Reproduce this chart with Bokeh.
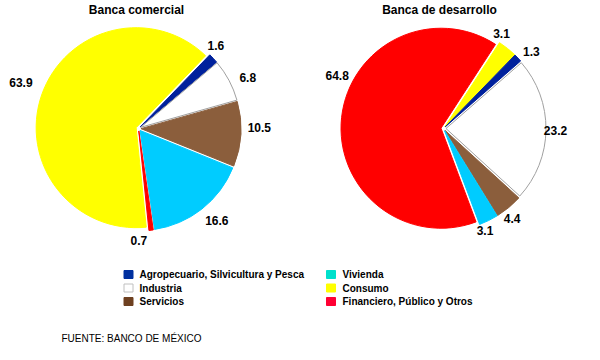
import math
from bokeh.plotting import figure
from bokeh.models import Range1d, ColumnDataSource
from bokeh.core.properties import value
from bokeh.embed import file_html
from bokeh.resources import INLINE

# ---------------- data ----------------
categories = ["Agropecuario, Silvicultura y Pesca", "Industria", "Servicios",
              "Vivienda", "Consumo", "Financiero, Público y Otros"]
comercial_values = [1.6, 6.8, 10.5, 16.6, 63.9, 0.7]
desarrollo_values = [1.3, 23.2, 4.4, 3.1, 3.1, 64.8]
# clockwise slice order (indices into categories)
comercial_order = [0, 1, 2, 3, 5, 4]
desarrollo_order = [4, 0, 1, 2, 3, 5]
titles = ["Banca comercial", "Banca de desarrollo"]
source_text = "FUENTE: BANCO DE MÉXICO"

# ---------------- style ----------------
slice_colors = ["#00219C", "#FFFFFF", "#8B5E3C", "#00CCFF", "#FFFF00", "#FF0000"]
slice_lines = ["#00219C", "#A0A0A0", "#8B5E3C", "#00CCFF", "#FFFF00", "#FF0000"]
legend_colors = ["#0030A0", "#FFFFFF", "#6E4020", "#00E0CC", "#FFFF00", "#FF0033"]
legend_lines = ["#0030A0", "#C0C0C0", "#6E4020", "#00E0CC", "#FFFF00", "#FF0033"]
FONT = value("Liberation Sans")

W, H = 584, 344


def X(xs):
    return xs


def Y(ys):
    return H - ys


p = figure(width=W, height=H, output_backend="svg", toolbar_location=None,
           x_range=Range1d(0, W), y_range=Range1d(0, H),
           x_axis_type=None, y_axis_type=None, min_border=0)
p.grid.visible = False
p.outline_line_color = None
p.background_fill_color = "white"

pies = [
    dict(vals=comercial_values, order=comercial_order, cx=X(138), cy=Y(128), start=44,
         nudges=[(-8, -3), (6, 4), (4, -7), (6, 0), (-14, -4), (-7, -8)], tx=X(136)),
    dict(vals=desarrollo_values, order=desarrollo_order, cx=X(443), cy=Y(128), start=33,
         nudges=[(-15, -4), (3, 4), (-5, 1), (-6, 0), (-10, -3), (10, -40)], tx=X(439)),
]

R = 100
LR = 117
EXPLODE = 2.5

for k, pie in enumerate(pies):
    vals = pie["vals"]
    total = sum(vals)
    th = pie["start"]
    d = dict(x=[], y=[], sa=[], ea=[], fc=[], lc=[])
    lab = dict(x=[], y=[], t=[])
    for j, idx in enumerate(pie["order"]):
        v = vals[idx]
        span = v / total * 360.0
        ths, the = th, th + span
        mid = math.radians((ths + the) / 2)
        d["x"].append(pie["cx"] + EXPLODE * math.sin(mid))
        d["y"].append(pie["cy"] + EXPLODE * math.cos(mid))
        d["sa"].append(math.radians(90 - ths))
        d["ea"].append(math.radians(90 - the))
        d["fc"].append(slice_colors[idx])
        d["lc"].append(slice_lines[idx])
        ndx, ndy = pie["nudges"][j]
        lab["x"].append(pie["cx"] + LR * math.sin(mid) + ndx)
        lab["y"].append(pie["cy"] + LR * math.cos(mid) - ndy)
        lab["t"].append(f"{v:.1f}")
        th = the
    src = ColumnDataSource(d)
    p.wedge(x="x", y="y", radius=R, start_angle="sa", end_angle="ea", direction="clock",
            fill_color="fc", line_color="lc", line_width=1, source=src)
    p.text(x="x", y="y", text="t", source=ColumnDataSource(lab), text_font=FONT,
           text_font_style="bold", text_font_size="12px", text_align="center",
           text_baseline="middle", text_color="#000000")
    p.text(x=[pie["tx"]], y=[Y(2)], text=[titles[k]], text_font=FONT,
           text_font_style="bold", text_font_size="12px", text_align="center",
           text_baseline="top", text_color="#000000")

# legend
sq_x = [X(128), X(330.5)]
tx_x = [X(139), X(342)]
lg = dict(x=[], y=[], tx=[], t=[], fc=[], lc=[])
for k, cat in enumerate(categories):
    col, row = k // 3, k % 3
    yy = Y(274 + 13.5 * row)
    lg["x"].append(sq_x[col])
    lg["y"].append(yy)
    lg["tx"].append(tx_x[col])
    lg["t"].append(cat)
    lg["fc"].append(legend_colors[k])
    lg["lc"].append(legend_lines[k])
lsrc = ColumnDataSource(lg)
p.rect(x="x", y="y", width=9, height=8, fill_color="fc", line_color="lc", source=lsrc)
p.text(x="tx", y="y", text="t", source=lsrc, text_font=FONT, text_font_style="bold",
       text_font_size="10px", text_align="left", text_baseline="middle", text_color="#000000")

p.text(x=[X(61)], y=[Y(338)], text=[source_text], text_font=FONT, text_font_size="10px",
       text_align="left", text_baseline="alphabetic", text_color="#000000")

open("out.html", "w").write(file_html(p, INLINE))
